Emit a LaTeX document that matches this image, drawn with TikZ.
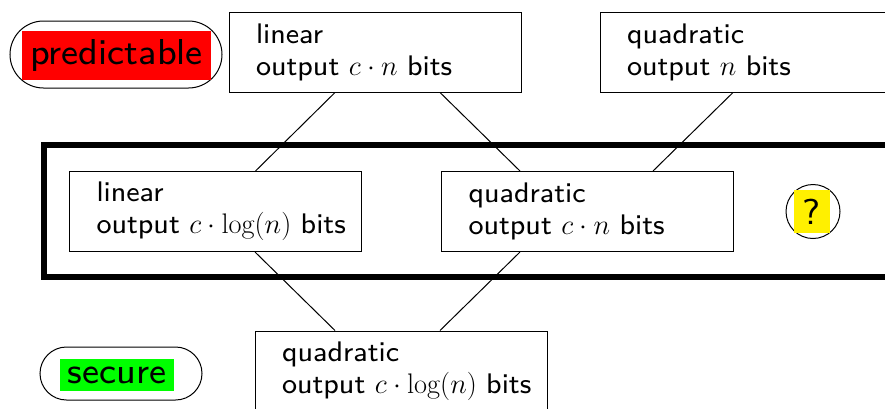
\RequirePackage{fix-cm}
\documentclass[tikz,border=0pt]{standalone}
\usepackage{fontspec}
\setsansfont{lmsans8-regular}[Extension=.otf]
\usetikzlibrary{calc}
\definecolor{tagred}{RGB}{255,0,0}
\definecolor{taggreen}{RGB}{0,255,0}
\definecolor{tagyellow}{RGB}{255,240,0}
% two unbroken lines of a level box
\newcommand{\levellines}[2]{\mbox{#1}\\\mbox{#2}}
\begin{document}
\begin{tikzpicture}[x=1pt,y=-1pt,
  levelbox/.style={draw, line width=1pt, fill=white, minimum width=292pt,
    minimum height=80pt, inner xsep=27pt, inner ysep=0pt, text width=238pt,
    align=left, font=\sffamily\fontsize{28.3}{32}\selectfont},
  pill/.style={draw, line width=1pt, rounded corners=#1, inner sep=0pt},
  tag/.style={fill=#1, inner sep=8.5pt, font=\sffamily\fontsize{36}{40}\selectfont},
  link/.style={line width=1pt},
  frame/.style={line width=6pt}]
\useasboundingbox (0,0) rectangle (885,408);
\clip (0,0) rectangle (885,408);

% thick frame around the middle level
\draw[frame] (43.5,145) rectangle (930,276.5);

% the five levels
\node[levelbox] (lin1)    at (375,52)      {\levellines{linear}{output $c\cdot n$ bits}};
\node[levelbox] (quad1)   at (746,52)      {\levellines{quadratic}{output $n$ bits}};
\node[levelbox] (linlog)  at (215.5,211.5) {\levellines{linear}{output $c\cdot\log(n)$ bits}};
\node[levelbox] (quadcn)  at (587.5,211.5) {\levellines{quadratic}{output $c\cdot n$ bits}};
\node[levelbox] (quadlog) at (401,371)     {\levellines{quadratic}{output $c\cdot\log(n)$ bits}};

% connectors
\draw[link] ([xshift=-40pt]lin1.south)   -- ([xshift=40pt]linlog.north);
\draw[link] ([xshift=65pt]lin1.south)    -- ([xshift=-67.5pt]quadcn.north);
\draw[link] ([xshift=-13pt]quad1.south)  -- ([xshift=65.5pt]quadcn.north);
\draw[link] ([xshift=39.5pt]linlog.south) -- ([xshift=-66pt]quadlog.north);
\draw[link] ([xshift=-67.5pt]quadcn.south) -- ([xshift=39pt]quadlog.north);

% side labels
\node[pill=33.5pt, minimum width=212pt, minimum height=67pt] (predframe) at (116,54.5) {};
\node[tag=tagred] (pred) at (116.5,55.5) {predictable};
\node[pill=26.5pt, minimum width=162pt, minimum height=53pt] (secframe) at (121,373.5) {};
\node[tag=taggreen, inner sep=8pt] (sec) at (117,375) {secure};
\node[draw, circle, line width=1pt, minimum size=54pt, inner sep=0pt] (qframe) at (813,211.5) {};
\node[tag=tagyellow] (q) at (812,211.5) {?};
\end{tikzpicture}
\end{document}
